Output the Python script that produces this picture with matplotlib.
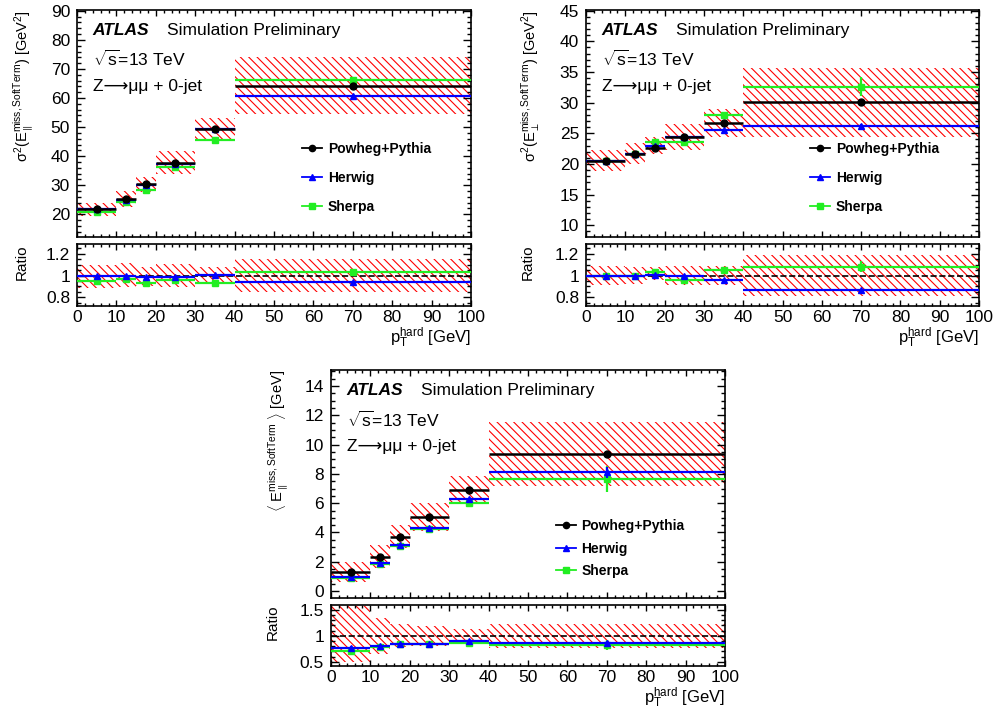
import numpy as np
import matplotlib
matplotlib.use('Agg')
import matplotlib.pyplot as plt
from matplotlib.lines import Line2D
from matplotlib.ticker import MultipleLocator, FuncFormatter

plt.rcParams['font.family'] = ['Liberation Sans', 'DejaVu Sans']
plt.rcParams['mathtext.fontset'] = 'custom'
plt.rcParams['mathtext.rm'] = 'Liberation Sans'
plt.rcParams['mathtext.it'] = 'Liberation Sans:italic'
plt.rcParams['mathtext.bf'] = 'Liberation Sans:bold'
plt.rcParams['hatch.linewidth'] = 0.8

# pT^hard bins
bin_edges = np.array([0, 10, 15, 20, 30, 40, 100])
labels = ['Powheg+Pythia', 'Herwig', 'Sherpa']

# sigma^2(E_par) [GeV^2]
par_powheg = [21.9, 25.2, 30.4, 37.7, 49.2, 64.3]
par_herwig = [21.8, 25.0, 30.0, 37.3, 49.4, 60.7]
par_sherpa = [20.8, 24.3, 28.3, 36.2, 45.7, 66.2]
par_herwig_err = [0.2, 0.2, 0.2, 0.3, 0.3, 0.4]
par_sherpa_err = [0.2, 0.2, 0.3, 0.3, 0.4, 0.8]
par_band_lo = [19.4, 22.6, 27.6, 33.7, 45.4, 54.4]
par_band_hi = [24.0, 28.0, 32.9, 41.7, 53.2, 74.0]

# sigma^2(E_perp) [GeV^2]
perp_powheg = [20.55, 21.7, 22.66, 24.4, 26.7, 30.1]
perp_herwig = [20.55, 21.7, 22.85, 24.4, 25.5, 26.2]
perp_sherpa = [20.55, 21.7, 23.5, 23.5, 28.0, 32.6]
perp_herwig_err = [0.1, 0.1, 0.1, 0.15, 0.2, 0.3]
perp_sherpa_err = [0.1, 0.1, 0.2, 0.2, 0.3, 1.6]
perp_band_lo = [18.86, 20.0, 21.7, 22.2, 24.45, 24.45]
perp_band_hi = [22.3, 23.4, 24.35, 26.5, 28.97, 35.7]

# <E_par> [GeV]
mean_powheg = [1.28, 2.35, 3.68, 5.09, 6.92, 9.38]
mean_herwig = [0.98, 1.90, 3.13, 4.29, 6.28, 8.10]
mean_sherpa = [0.90, 1.83, 3.10, 4.27, 6.00, 7.65]
mean_herwig_err = [0.05, 0.05, 0.05, 0.05, 0.1, 0.4]
mean_sherpa_err = [0.05, 0.05, 0.05, 0.05, 0.25, 0.9]
mean_band_lo = [0.64, 1.55, 2.92, 4.13, 6.00, 7.19]
mean_band_hi = [2.00, 3.15, 4.52, 6.00, 7.88, 11.57]

green = '#22ee22'
blue = '#0000ff'
hatch = '\\\\\\\\'
tick_fs = 12.5
text_fs = 12.5


def style_axes(ax, major, minor, ylen=5.8):
    ax.set_xlim(0, 100)
    ax.xaxis.set_major_locator(MultipleLocator(10))
    ax.xaxis.set_minor_locator(MultipleLocator(2))
    ax.yaxis.set_major_locator(MultipleLocator(major))
    ax.yaxis.set_minor_locator(MultipleLocator(minor))
    ax.yaxis.set_major_formatter(FuncFormatter(lambda v, p: '%g' % round(v, 3)))
    ax.tick_params(which='both', direction='in', top=True, right=True,
                   labelsize=tick_fs, width=1.0)
    ax.tick_params(axis='y', which='major', length=ylen, pad=5)
    ax.tick_params(axis='y', which='minor', length=ylen / 2)
    ax.tick_params(axis='x', which='major', length=4.3, pad=3)
    ax.tick_params(axis='x', which='minor', length=2.2)
    for s in ax.spines.values():
        s.set_linewidth(1.2)


def draw_panel(main_rect, ratio_rect, powheg, herwig, sherpa, herwig_err,
               sherpa_err, band_lo, band_hi, ylim, ymajor, yminor,
               rlim, rmajor, rminor, ylabel, ylab_x, rlab_x, leg_xy, leg_sp):
    powheg = np.array(powheg)
    herwig = np.array(herwig)
    sherpa = np.array(sherpa)
    band_lo = np.array(band_lo)
    band_hi = np.array(band_hi)
    centers = 0.5 * (bin_edges[:-1] + bin_edges[1:])
    widths = np.diff(bin_edges)

    ax = fig.add_axes(main_rect)
    axr = fig.add_axes(ratio_rect)

    # main pad
    ax.bar(bin_edges[:-1], band_hi - band_lo, bottom=band_lo, width=widths,
           align='edge', fill=False, hatch=hatch, edgecolor='red',
           linewidth=0, zorder=1)
    ax.errorbar(centers, sherpa, xerr=widths / 2, yerr=sherpa_err, fmt='s',
                color=green, ms=5, elinewidth=1.6, capsize=0, zorder=3)
    ax.errorbar(centers, herwig, xerr=widths / 2, yerr=herwig_err, fmt='^',
                color=blue, ms=4, elinewidth=1.6, capsize=0, zorder=4)
    ax.errorbar(centers, powheg, xerr=widths / 2, fmt='o', color='black',
                ms=5, elinewidth=1.8, capsize=0, zorder=5)
    ax.set_ylim(*ylim)
    style_axes(ax, ymajor, yminor)
    ax.tick_params(labelbottom=False)

    ax.text(0.04, 0.89, 'ATLAS', transform=ax.transAxes, fontsize=text_fs,
            fontweight='bold', fontstyle='italic')
    ax.text(0.229, 0.89, 'Simulation Preliminary', transform=ax.transAxes,
            fontsize=text_fs)
    ax.text(0.04, 0.752, r'$\sqrt{\mathrm{s}}$=13 TeV', transform=ax.transAxes,
            fontsize=text_fs)
    ax.text(0.04, 0.644, 'Z\u27f6\u03bc\u03bc + 0-jet',
            transform=ax.transAxes, fontsize=text_fs)
    ax.text(ylab_x, 1.0, ylabel, transform=ax.transAxes, rotation=90,
            ha='center', va='top', fontsize=10.5)

    handles = [
        Line2D([], [], color='black', marker='o', ms=4.5, lw=1.3),
        Line2D([], [], color=blue, marker='^', ms=4, lw=1.3),
        Line2D([], [], color=green, marker='s', ms=4.5, lw=1.3),
    ]
    ax.legend(handles, labels, loc='upper left', bbox_to_anchor=leg_xy,
              frameon=False, borderpad=0, borderaxespad=0, handlelength=1.45,
              handletextpad=0.4, labelspacing=leg_sp,
              prop={'weight': 'bold', 'size': 10})

    # ratio pad
    axr.bar(bin_edges[:-1], (band_hi - band_lo) / powheg,
            bottom=band_lo / powheg, width=widths, align='edge', fill=False,
            hatch=hatch, edgecolor='red', linewidth=0, zorder=1)
    axr.axhline(1.0, color='black', ls='--', lw=1.2, zorder=2)
    axr.errorbar(centers, sherpa / powheg, xerr=widths / 2,
                 yerr=np.array(sherpa_err) / powheg, fmt='s', color=green,
                 ms=5, elinewidth=1.6, capsize=0, zorder=3)
    axr.errorbar(centers, herwig / powheg, xerr=widths / 2,
                 yerr=np.array(herwig_err) / powheg, fmt='^', color=blue,
                 ms=4, elinewidth=1.6, capsize=0, zorder=4)
    axr.set_ylim(*rlim)
    style_axes(axr, rmajor, rminor)
    axr.set_xlabel(r'$\mathrm{p}_{\mathrm{T}}^{\mathrm{hard}}$ [GeV]',
                   loc='right', fontsize=12, labelpad=0)
    axr.text(rlab_x, 1.0, 'Ratio', transform=axr.transAxes, rotation=90,
             ha='center', va='top', fontsize=11)


fig = plt.figure(figsize=(9.96, 7.11), dpi=100)

draw_panel([0.0773, 0.6667, 0.3956, 0.3193], [0.0773, 0.5696, 0.3956, 0.0872],
           par_powheg, par_herwig, par_sherpa, par_herwig_err, par_sherpa_err,
           par_band_lo, par_band_hi, (12.2, 90.3), 10, 2,
           (0.72, 1.29), 0.2, 0.05,
           r'$\mathrm{\sigma^{2}(E_{\parallel}^{miss,SoftTerm})}$ [GeV$^{2}$]',
           -0.135, -0.14, (0.571, 0.417), 1.08)

draw_panel([0.5884, 0.6667, 0.3946, 0.3193], [0.5884, 0.5696, 0.3946, 0.0872],
           perp_powheg, perp_herwig, perp_sherpa, perp_herwig_err,
           perp_sherpa_err, perp_band_lo, perp_band_hi, (8.1, 45.1), 5, 1,
           (0.72, 1.29), 0.2, 0.05,
           r'$\mathrm{\sigma^{2}(E_{\perp}^{miss,SoftTerm})}$ [GeV$^{2}$]',
           -0.14, -0.149, (0.570, 0.417), 1.08)

draw_panel([0.3323, 0.1589, 0.3956, 0.3207], [0.3323, 0.0633, 0.3956, 0.0858],
           mean_powheg, mean_herwig, mean_sherpa, mean_herwig_err,
           mean_sherpa_err, mean_band_lo, mean_band_hi, (-0.48, 15.1), 2, 0.5,
           (0.42, 1.59), 0.5, 0.1,
           r'$\langle\ \mathrm{E_{\parallel}^{miss,SoftTerm}}\ \rangle$ [GeV]',
           -0.132, -0.148, (0.570, 0.345), 0.6)

fig.savefig('out.png', dpi=100)
